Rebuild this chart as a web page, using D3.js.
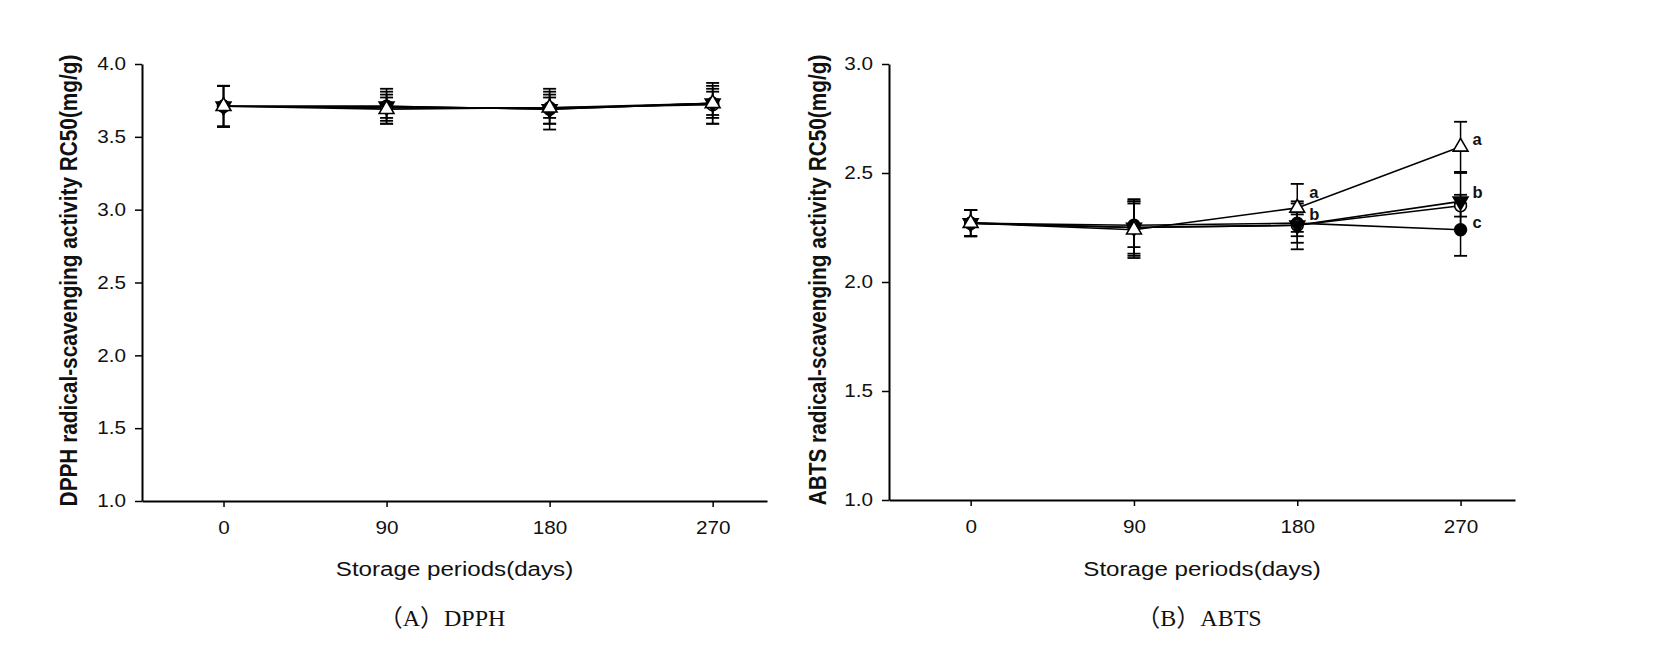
<!DOCTYPE html>
<html>
<head>
<meta charset="utf-8">
<script src="https://cdn.jsdelivr.net/npm/d3@7"></script>
<style>
  html, body { margin: 0; padding: 0; background: #fff; }
  svg { display: block; }
</style>
</head>
<body>
<svg id="chart" width="1658" height="652"></svg>
<script>
// ---------- data ----------
const days = [0, 90, 180, 270];
const xTickValues = [0, 90, 180, 270];

const dpphTicks = [1.0, 1.5, 2.0, 2.5, 3.0, 3.5, 4.0];
const abtsTicks = [1.0, 1.5, 2.0, 2.5, 3.0];

// DPPH (A)
const dpphFilledCircle   = [3.71, 3.71, 3.69, 3.73];
const dpphFilledCircleSD = [0.14, 0.12, 0.14, 0.14];
const dpphOpenCircle     = [3.71, 3.70, 3.70, 3.72];
const dpphOpenCircleSD   = [0.14, 0.11, 0.11, 0.13];
const dpphFilledDown     = [3.71, 3.71, 3.69, 3.73];
const dpphFilledDownSD   = [0.14, 0.08, 0.10, 0.08];
const dpphOpenUp         = [3.71, 3.69, 3.70, 3.73];
const dpphOpenUpSD       = [0.14, 0.08, 0.07, 0.10];

// ABTS (B)
const abtsFilledCircle   = [2.27, 2.26, 2.27, 2.24];
const abtsFilledCircleSD = [0.06, 0.10, 0.09, 0.12];
const abtsOpenCircle     = [2.27, 2.25, 2.26, 2.35];
const abtsOpenCircleSD   = [0.06, 0.12, 0.11, 0.05];
const abtsFilledDown     = [2.27, 2.25, 2.26, 2.37];
const abtsFilledDownSD   = [0.06, 0.13, 0.05, 0.13];
const abtsOpenUp         = [2.27, 2.24, 2.34, 2.62];
const abtsOpenUpSD       = [0.06, 0.13, 0.11, 0.115];

// significance letters (day, value where letter sits, letter)
const abtsLetterDays   = [180, 180, 270, 270, 270];
const abtsLetterValues = [2.41, 2.31, 2.655, 2.41, 2.275];
const abtsLetterText   = ["a", "b", "a", "b", "c"];

const xTitle = "Storage periods(days)";
const dpphYTitle = "DPPH radical-scavenging activity RC50(mg/g)";
const abtsYTitle = "ABTS radical-scavenging activity RC50(mg/g)";
const dpphCaption = "（A）DPPH";
const abtsCaption = "（B）ABTS";

// ---------- drawing ----------
const svg = d3.select("#chart");
const SANS = "'Liberation Sans', Arial, sans-serif";
const SX = 1.15; // horizontal stretch of the original picture's text

function series(means, sds, shape, filled) {
  return { means, sds, shape, filled };
}

const panels = [
  {
    left: 142, right: 767, top: 64, bottom: 501,
    yDomain: [1.0, 4.0], yTicks: dpphTicks, yTitle: dpphYTitle, yTitleX: 69,
    caption: dpphCaption, captionX: 442,
    series: [
      series(dpphFilledCircle, dpphFilledCircleSD, "circle", true),
      series(dpphOpenCircle, dpphOpenCircleSD, "circle", false),
      series(dpphFilledDown, dpphFilledDownSD, "down", true),
      series(dpphOpenUp, dpphOpenUpSD, "up", false)
    ],
    letters: []
  },
  {
    left: 889, right: 1515, top: 64, bottom: 500,
    yDomain: [1.0, 3.0], yTicks: abtsTicks, yTitle: abtsYTitle, yTitleX: 818,
    caption: abtsCaption, captionX: 1199,
    series: [
      series(abtsFilledCircle, abtsFilledCircleSD, "circle", true),
      series(abtsOpenCircle, abtsOpenCircleSD, "circle", false),
      series(abtsFilledDown, abtsFilledDownSD, "down", true),
      series(abtsOpenUp, abtsOpenUpSD, "up", false)
    ],
    letters: abtsLetterDays.map((d, i) => ({ day: d, value: abtsLetterValues[i], text: abtsLetterText[i] }))
  }
];

panels.forEach(p => {
  const x = d3.scaleLinear().domain([-45, 300]).range([p.left, p.right]);
  const y = d3.scaleLinear().domain(p.yDomain).range([p.bottom, p.top]);
  const g = svg.append("g");

  // y axis
  const yAxis = g.append("g")
    .attr("transform", `translate(${p.left},0)`)
    .call(d3.axisLeft(y).tickValues(p.yTicks).tickFormat(d3.format(".1f"))
      .tickSize(7).tickSizeOuter(0).tickPadding(10));
  yAxis.select(".domain").attr("stroke", "#000").attr("stroke-width", 2);
  yAxis.selectAll(".tick line").attr("stroke", "#000").attr("stroke-width", 1.5);
  yAxis.selectAll(".tick text")
    .attr("font-family", SANS).attr("font-size", 18).attr("fill", "#111")
    .attr("x", -16 / SX).attr("transform", `scale(${SX},1)`);

  // x axis
  const xAxis = g.append("g")
    .attr("transform", `translate(0,${p.bottom})`)
    .call(d3.axisBottom(x).tickValues(xTickValues).tickFormat(d3.format("d"))
      .tickSize(6).tickSizeOuter(0).tickPadding(14));
  xAxis.select(".domain").attr("stroke", "#000").attr("stroke-width", 2);
  xAxis.selectAll(".tick line").attr("stroke", "#000").attr("stroke-width", 1.5);
  xAxis.selectAll(".tick text")
    .attr("font-family", SANS).attr("font-size", 18).attr("fill", "#111")
    .attr("transform", `scale(${SX},1)`);

  // titles
  const cx = (p.left + p.right) / 2;
  g.append("text")
    .attr("transform", `translate(${cx},${576}) scale(${SX},1)`)
    .attr("text-anchor", "middle").attr("font-family", SANS).attr("font-size", 21)
    .attr("fill", "#111").text(xTitle);

  g.append("text")
    .attr("transform", `translate(${p.yTitleX},${(p.top + p.bottom) / 2 - 2}) scale(${SX},1) rotate(-90)`)
    .attr("text-anchor", "middle").attr("dy", "0.35em")
    .attr("font-family", SANS).attr("font-weight", "bold").attr("font-size", 20.8)
    .attr("fill", "#111").text(p.yTitle);

  g.append("text")
    .attr("transform", `translate(${p.captionX},${626})`)
    .attr("text-anchor", "middle")
    .attr("font-family", "'Liberation Serif', 'Noto Sans CJK SC', serif").attr("font-size", 24)
    .attr("fill", "#111").text(p.caption);

  // lines
  const line = d3.line().x((d, i) => x(days[i])).y(d => y(d));
  p.series.forEach(s => {
    g.append("path").datum(s.means).attr("d", line)
      .attr("fill", "none").attr("stroke", "#000").attr("stroke-width", 1.6);
  });

  // error bars
  const cap = 6.5;
  p.series.forEach(s => {
    s.means.forEach((m, i) => {
      const xi = x(days[i]);
      const hi = y(m + s.sds[i]), lo = y(m - s.sds[i]);
      g.append("line").attr("x1", xi).attr("x2", xi).attr("y1", hi).attr("y2", lo)
        .attr("stroke", "#000").attr("stroke-width", 1.5);
      [hi, lo].forEach(yy => g.append("line")
        .attr("x1", xi - cap).attr("x2", xi + cap).attr("y1", yy).attr("y2", yy)
        .attr("stroke", "#000").attr("stroke-width", 1.8));
    });
  });

  // markers
  p.series.forEach(s => {
    const sym = s.shape === "circle"
      ? d3.symbol().type(d3.symbolCircle).size(110)
      : d3.symbol().type(d3.symbolTriangle).size(95);
    s.means.forEach((m, i) => {
      g.append("path").attr("d", sym())
        .attr("transform", `translate(${x(days[i])},${y(m)})` + (s.shape === "down" ? " rotate(180)" : ""))
        .attr("fill", s.filled ? "#000" : "#fff")
        .attr("stroke", "#000").attr("stroke-width", 1.6);
    });
  });

  // letters
  p.letters.forEach(l => {
    g.append("text")
      .attr("x", x(l.day) + 12).attr("y", y(l.value))
      .attr("dy", "0.35em")
      .attr("font-family", SANS).attr("font-weight", "bold").attr("font-size", 16.5)
      .attr("fill", "#111").text(l.text);
  });
});
</script>
</body>
</html>
